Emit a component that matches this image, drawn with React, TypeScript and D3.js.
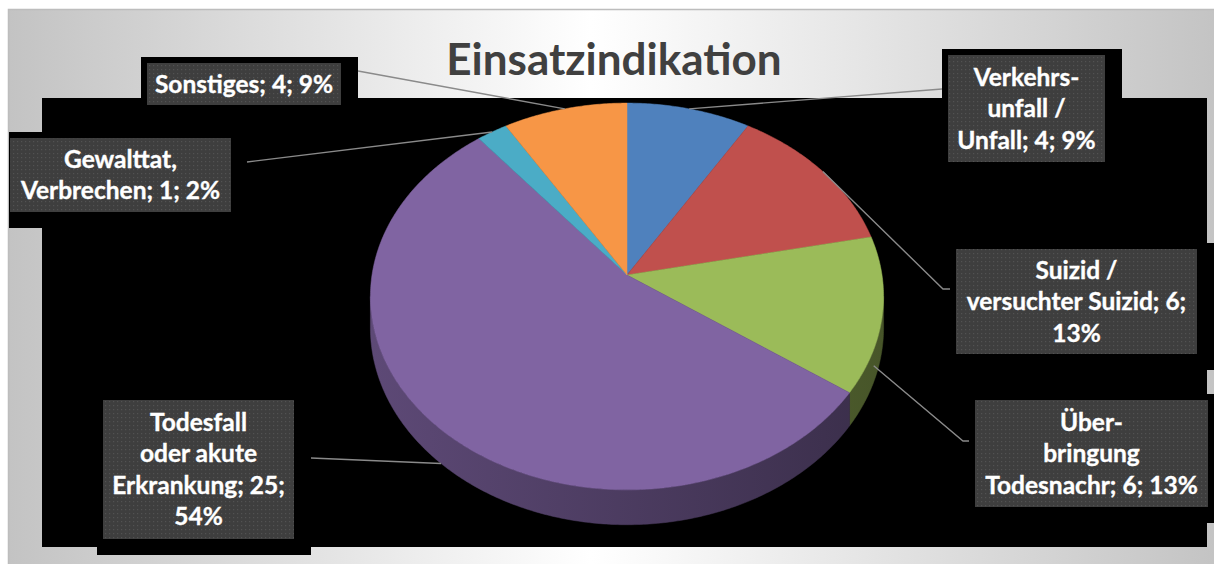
import React from "react";
import * as d3 from "d3";

// data
const title = "Einsatzindikation";
const categories = [
  "Verkehrs-\nunfall /\nUnfall",
  "Suizid /\nversuchter Suizid",
  "Über-\nbringung\nTodesnachr",
  "Todesfall\noder akute\nErkrankung",
  "Gewalttat,\nVerbrechen",
  "Sonstiges",
];
const counts = [4, 6, 6, 25, 1, 4];
const sliceColors = ["#4F81BD", "#C0504D", "#9BBB59", "#8064A2", "#4BACC6", "#F79646"];

// label boxes, placed as in the original (x, y, w, h), and where the leader ends
const labelLayout = [
  { box: [948, 55, 157, 107], leader: [[942, 89]], anchor: null, depth: 0 },
  { box: [956, 249, 241, 105], leader: [[943, 289], [950, 289]], anchor: null, depth: 0 },
  { box: [975, 400, 233, 107], leader: [[963, 441], [969, 441]], anchor: 112, depth: 0.5 },
  { box: [103, 400, 191, 139], leader: [[311, 458]], anchor: 222, depth: 1 },
  { box: [10, 138, 221, 74], leader: [[247, 162]], anchor: null, depth: 0 },
  { box: [147, 63, 194, 42], leader: [[358, 71]], anchor: null, depth: 0 },
];

const W = 1214;
const H = 564;
const PIE = { cx: 627, cy: 275, a: 255, b: 191, p: 0.111, depth: 31 };
const LABEL_SIZE = 24.5;
const LABEL_FONT = `bold ${LABEL_SIZE}px Lato, 'Open Sans', sans-serif`;
const LINE_H = 31.5;

// perspective projection of a point on the pie rim (theta clockwise from 12 o'clock)
function project(theta: number, t = 0): [number, number] {
  const s = Math.sin(theta);
  const c = Math.cos(theta);
  const w = 1 + PIE.p * c;
  return [PIE.cx + (PIE.a * s) / w, PIE.cy - (PIE.b * c) / w + (t * PIE.depth) / w];
}

function arcPoints(a0: number, a1: number, t: number) {
  const n = Math.max(2, Math.ceil((a1 - a0) / 0.01));
  return d3.range(n + 1).map((i) => project(a0 + ((a1 - a0) * i) / n, t));
}

let ctx: CanvasRenderingContext2D | null = null;
function measure(s: string) {
  if (!ctx) {
    ctx = document.createElement("canvas").getContext("2d");
    if (ctx) ctx.font = LABEL_FONT;
  }
  return ctx ? ctx.measureText(s).width : s.length * 11;
}

function wrap(text: string, maxW: number) {
  const out: string[] = [];
  text.split("\n").forEach((para) => {
    const tokens = para.split(/(?<= )/);
    let line = "";
    tokens.forEach((tk) => {
      const cand = line + tk;
      if (line && measure(cand.trimEnd()) > maxW) {
        out.push(line.trimEnd());
        line = tk;
      } else line = cand;
    });
    out.push(line.trimEnd());
  });
  return out;
}

export default function App() {
  const arcs = d3.pie<number>().sort(null).value((d) => d)(counts);
  const total = d3.sum(counts);
  const line = d3.line();
  const lo = Math.acos(-PIE.p);
  const hi = 2 * Math.PI - lo;

  return (
    <svg
      width={W}
      height={H}
      style={{ position: "absolute", left: 0, top: 0 }}
      fontFamily="Lato, 'Open Sans', sans-serif"
    >
      <defs>
        <linearGradient id="bg" x1="0" x2="1" y1="0" y2="0">
          <stop offset="0" stopColor="#c3c3c3" />
          <stop offset="0.48" stopColor="#ffffff" />
          <stop offset="1" stopColor="#c3c3c3" />
        </linearGradient>
        <pattern id="dots" width="4" height="4" patternUnits="userSpaceOnUse">
          <rect width="4" height="4" fill="#3e3e3e" />
          <rect x="1" y="1" width="1.2" height="1.2" fill="#525252" />
        </pattern>
        {arcs.map((a, i) => (
          <linearGradient
            key={i}
            id={"rim" + i}
            gradientUnits="userSpaceOnUse"
            x1={PIE.cx - PIE.a}
            x2={PIE.cx + PIE.a}
            y1={0}
            y2={0}
          >
            <stop offset="0" stopColor={d3.color(sliceColors[i])!.darker(0.9).formatHex()} />
            <stop offset="1" stopColor={d3.color(sliceColors[i])!.darker(2.2).formatHex()} />
          </linearGradient>
        ))}
        <clipPath id="frame">
          <rect x={9} y={10} width={W} height={H} />
        </clipPath>
      </defs>

      <rect x={8.5} y={9.5} width={W} height={H} fill="url(#bg)" stroke="#bdbdbd" strokeWidth={1.5} />

      <g clipPath="url(#frame)">
        <rect x={42} y={98} width={1165} height={449} fill="#000" />
        {labelLayout.map((l, i) => (
          <rect key={i} x={l.box[0] - 6} y={l.box[1] - 6} width={l.box[2] + 23} height={l.box[3] + 22} fill="#000" />
        ))}
      </g>

      <text x={614} y={75} textAnchor="middle" fontSize={44} fontWeight="bold" fill="#404040">
        {title}
      </text>

      {/* pie side */}
      {arcs.map((a, i) => {
        const from = Math.max(a.startAngle, lo);
        const to = Math.min(a.endAngle, hi);
        if (to <= from) return null;
        const pts = arcPoints(from, to, 0).concat(arcPoints(from, to, 1).reverse());
        return <path key={i} d={line(pts) + "Z"} fill={`url(#rim${i})`} stroke={`url(#rim${i})`} strokeWidth={0.5} />;
      })}
      {/* pie top */}
      {arcs.map((a, i) => {
        const pts = [[PIE.cx, PIE.cy] as [number, number]].concat(arcPoints(a.startAngle, a.endAngle, 0));
        return <path key={i} d={line(pts) + "Z"} fill={sliceColors[i]} stroke={sliceColors[i]} strokeWidth={0.5} />;
      })}

      {/* leader lines */}
      {arcs.map((a, i) => {
        const l = labelLayout[i];
        const ang = l.anchor == null ? (a.startAngle + a.endAngle) / 2 : (l.anchor * Math.PI) / 180;
        const pts = [project(ang, l.depth), ...(l.leader as [number, number][])];
        return <path key={i} d={line(pts)!} fill="none" stroke="#8a8a8a" strokeWidth={1.4} />;
      })}

      {/* labels */}
      {arcs.map((a, i) => {
        const l = labelLayout[i];
        const [bx, by, bw, bh] = l.box;
        const txt = `${categories[i]}; ${counts[i]}; ${Math.round((counts[i] / total) * 100)}%`;
        const lines = wrap(txt, bw - 6);
        const y0 = by + bh / 2 - ((lines.length - 1) * LINE_H) / 2 + 8.5;
        return (
          <g key={i}>
            <rect x={bx} y={by} width={bw} height={bh} fill="url(#dots)" />
            <text
              textAnchor="middle"
              fontSize={LABEL_SIZE}
              fontWeight="bold"
              fill="#fff"
              stroke="#fff"
              strokeWidth={0.35}
            >
              {lines.map((s, j) => (
                <tspan key={j} x={bx + bw / 2} y={y0 + j * LINE_H}>
                  {s}
                </tspan>
              ))}
            </text>
          </g>
        );
      })}
    </svg>
  );
}
